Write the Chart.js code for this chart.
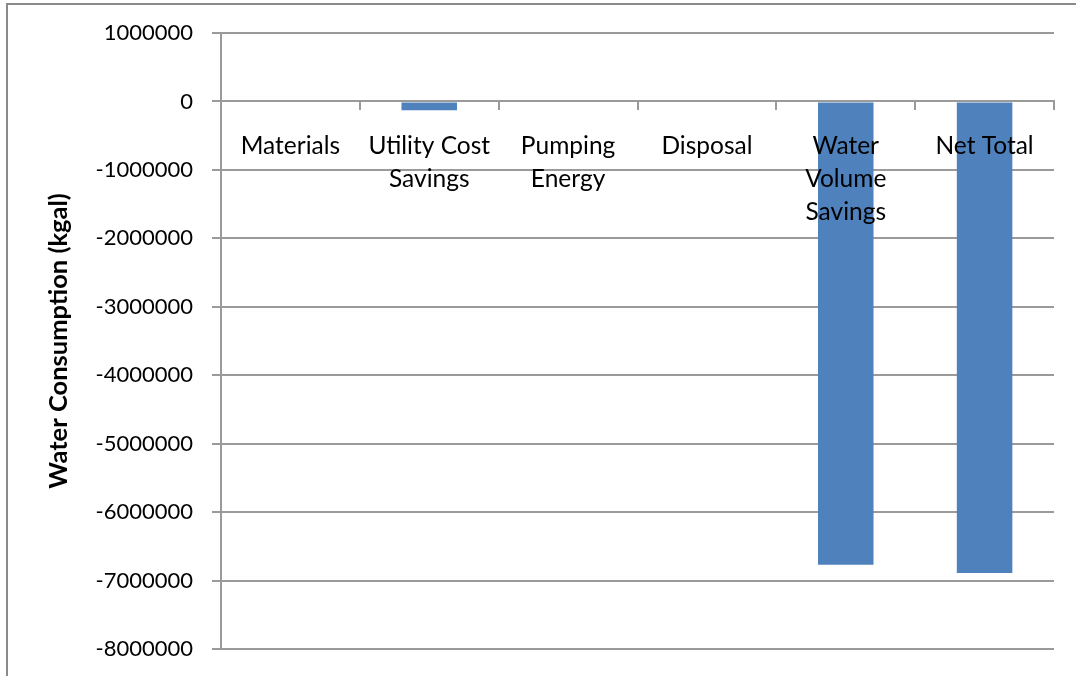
<!DOCTYPE html>
<html>
<head>
<meta charset="utf-8">
<script src="https://cdn.jsdelivr.net/npm/chart.js@4/dist/chart.umd.min.js"></script>
<style>
  html, body { margin: 0; padding: 0; background: #fff; }
  #wrap { width: 1076px; height: 676px; position: relative; }
</style>
</head>
<body>
<div id="wrap"><canvas id="c" width="1076" height="676"></canvas></div>
<script>
const categories = [
  'Materials',
  ['Utility Cost', 'Savings'],
  ['Pumping', 'Energy'],
  'Disposal',
  ['Water', 'Volume', 'Savings'],
  'Net Total'
];
const waterConsumption = [0, -130000, 0, 0, -6770000, -6890000];
const yMin = -8000000;
const yMax = 1000000;
const yStep = 1000000;
const yTitle = 'Water Consumption (kgal)';

const gridColor = '#9a9a9a';

const outerBorder = {
  id: 'outerBorder',
  beforeDraw(chart) {
    const ctx = chart.ctx;
    ctx.save();
    ctx.fillStyle = '#ffffff';
    ctx.fillRect(0, 0, chart.width, chart.height);
    ctx.strokeStyle = '#8a8a8a';
    ctx.lineWidth = 2;
    ctx.beginPath();
    ctx.moveTo(7, chart.height);
    ctx.lineTo(7, 4);
    ctx.lineTo(chart.width, 4);
    ctx.stroke();
    ctx.restore();
  }
};

new Chart(document.getElementById('c'), {
  type: 'bar',
  data: {
    labels: categories,
    datasets: [{
      data: waterConsumption,
      backgroundColor: '#4F81BD',
      borderWidth: 0,
      barPercentage: 0.4,
      categoryPercentage: 1.0
    }]
  },
  options: {
    responsive: false,
    animation: false,
    devicePixelRatio: 1,
    layout: { padding: { left: 0, top: 33, right: 22, bottom: 27 } },
    plugins: { legend: { display: false }, tooltip: { enabled: false } },
    scales: {
      x: {
        position: { y: 0 },
        offset: true,
        grid: { display: true, drawOnChartArea: false, drawTicks: true, tickLength: 8, color: gridColor, lineWidth: 2, offset: true },
        border: { display: true, color: gridColor, width: 2 },
        ticks: {
          z: 1,
          color: '#000',
          font: { family: 'Lato', size: 24.5, lineHeight: 1.35 },
          padding: 20,
          maxRotation: 0,
          autoSkip: false
        }
      },
      y: {
        min: yMin,
        max: yMax,
        afterFit(scale) { scale.width = 221; scale.paddingTop = 0; scale.paddingBottom = 0; },
        grid: { color: gridColor, lineWidth: 2, tickLength: 9 },
        border: { display: true, color: gridColor, width: 2 },
        ticks: {
          stepSize: yStep,
          color: '#000',
          font: { family: 'Lato', size: 22 },
          padding: 19,
          callback: v => String(v)
        },
        title: {
          display: true,
          text: yTitle,
          color: '#000',
          font: { family: 'Lato', size: 25.5, weight: 'bold' },
          padding: { top: 43, bottom: 0 }
        }
      }
    }
  },
  plugins: [outerBorder]
});
</script>
</body>
</html>
